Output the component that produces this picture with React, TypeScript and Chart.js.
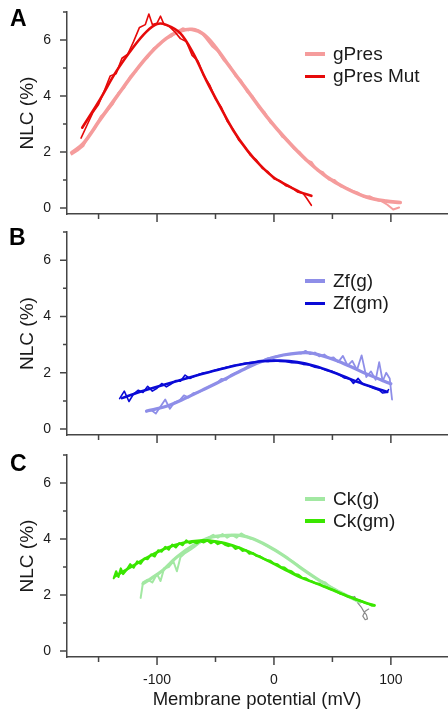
import React, { useEffect, useRef } from 'react';
import { Chart, registerables } from 'chart.js';

Chart.register(...registerables);

// ---------- axes ----------
const X_MIN = -177;
const X_MAX = 148;
const Y_MIN = -0.21;
const Y_MAX = 7;
const xTickValues = [-150, -100, -50, 0, 50, 100];
const xLabeledTicks = [-100, 0, 100];
const yTickValues = [0, 1, 2, 3, 4, 5, 6, 7];
const yLabeledTicks = [0, 2, 4, 6];
const xTitle = 'Membrane potential (mV)';
const yTitle = 'NLC (%)';
const panelLetters = ['A', 'B', 'C'];

// ---------- Panel A ----------
const presLabel = 'gPres';
const presFitX = [-173, -163, -149, -134.5, -120, -106, -92, -80, -70, -60, -50, -40, -23, -6, 11, 28, 45, 62, 79, 96, 108];
const presFitY = [1.98, 2.31, 3.14, 3.98, 4.81, 5.52, 6.06, 6.32, 6.38, 6.2, 5.75, 5.17, 4.21, 3.26, 2.43, 1.71, 1.12, 0.7, 0.4, 0.25, 0.2];
const presDataX = [-173, -168, -163, -158, -153, -148, -143, -138, -133, -128, -123, -118, -113, -108, -103, -98, -93, -88, -83, -78, -73, -68, -63, -58, -53, -48, -43, -38, -33, -28, -23, -18, -13, -8, -3, 2, 7, 12, 17, 22, 27, 32, 37, 42, 47, 52, 57, 62, 67, 72, 77, 82, 87, 92, 97, 102, 107];
const presDataY = [1.92, 2.05, 2.22, 2.62, 2.85, 3.28, 3.45, 3.7, 4.12, 4.3, 4.7, 4.88, 5.2, 5.38, 5.7, 5.82, 6.05, 6.12, 6.3, 6.42, 6.35, 6.4, 6.3, 6.05, 5.78, 5.6, 5.28, 5.1, 4.72, 4.55, 4.15, 3.98, 3.6, 3.42, 3.05, 2.88, 2.55, 2.42, 2.12, 2.0, 1.72, 1.65, 1.35, 1.28, 1.02, 1.0, 0.78, 0.72, 0.62, 0.55, 0.4, 0.42, 0.3, 0.25, 0.12, -0.05, 0.02];

const mutLabel = 'gPres Mut';
const mutFitX = [-164, -149, -135, -120, -109, -100, -92, -80, -69, -58, -46, -35, -23, -12, -1, 11, 22, 32];
const mutFitY = [2.87, 3.86, 4.87, 5.76, 6.3, 6.57, 6.54, 6.24, 5.52, 4.57, 3.62, 2.79, 2.07, 1.54, 1.12, 0.82, 0.58, 0.44];
const mutDataX = [-165, -160, -155, -150, -145, -140, -135, -130, -125, -120, -115, -110, -107, -104, -100, -97, -94, -90, -85, -80, -75, -70, -65, -60, -55, -50, -45, -40, -35, -30, -25, -20, -15, -10, -5, 0, 5, 10, 15, 20, 25, 28, 32];
const mutDataY = [2.5, 2.95, 3.4, 3.7, 4.2, 4.72, 4.8, 5.35, 5.5, 5.95, 6.45, 6.55, 6.93, 6.55, 6.6, 6.85, 6.55, 6.5, 6.3, 6.05, 5.95, 5.45, 5.25, 4.72, 4.4, 3.9, 3.6, 3.1, 2.82, 2.42, 2.2, 1.88, 1.72, 1.42, 1.3, 1.05, 0.98, 0.8, 0.74, 0.58, 0.52, 0.35, 0.1];

// ---------- Panel B ----------
const zfgLabel = 'Zf(g)';
const zfgFitX = [-109, -92, -75, -57.5, -40, -23, -6, 8, 22, 31, 39, 51, 65, 79, 100];
const zfgFitY = [0.64, 0.81, 1.11, 1.46, 1.82, 2.18, 2.47, 2.63, 2.71, 2.71, 2.63, 2.47, 2.23, 1.96, 1.61];
const zfgDataX = [-109, -105, -101, -97, -93, -89, -85, -81, -77, -73, -69, -65, -61, -57, -53, -49, -45, -41, -37, -33, -29, -25, -21, -17, -13, -9, -5, -1, 3, 7, 11, 15, 19, 23, 27, 31, 35, 39, 43, 47, 51, 55, 59, 63, 67, 71, 75, 79, 83, 87, 90, 93, 96, 99, 101];
const zfgDataY = [0.62, 0.68, 0.55, 0.8, 1.05, 0.72, 0.95, 1.0, 1.2, 1.12, 1.28, 1.3, 1.38, 1.48, 1.55, 1.62, 1.78, 1.75, 1.92, 2.0, 2.05, 2.15, 2.28, 2.35, 2.42, 2.45, 2.52, 2.55, 2.6, 2.62, 2.65, 2.66, 2.7, 2.68, 2.78, 2.66, 2.72, 2.58, 2.65, 2.52, 2.55, 2.38, 2.6, 2.25, 2.42, 2.1, 2.62, 1.85, 2.05, 1.75, 2.38, 1.7, 2.0, 1.8, 1.05];

const zfgmLabel = 'Zf(gm)';
const zfgmFitX = [-130, -115, -100, -85, -70, -55, -40, -25, -10, 5, 20, 35, 50, 65, 80, 97];
const zfgmFitY = [1.1, 1.32, 1.5, 1.68, 1.86, 2.03, 2.19, 2.32, 2.41, 2.43, 2.38, 2.24, 2.03, 1.78, 1.55, 1.32];
const zfgmDataX = [-132, -128, -124, -120, -116, -112, -108, -104, -100, -96, -92, -88, -84, -80, -76, -72, -68, -64, -60, -55, -50, -45, -40, -35, -30, -25, -20, -15, -10, -5, 0, 5, 10, 15, 20, 25, 30, 35, 40, 45, 50, 55, 60, 65, 68, 72, 76, 80, 85, 90, 93, 96, 98];
const zfgmDataY = [1.08, 1.35, 0.98, 1.25, 1.38, 1.3, 1.52, 1.35, 1.45, 1.62, 1.5, 1.6, 1.72, 1.7, 1.92, 1.8, 1.88, 1.95, 2.0, 2.02, 2.1, 2.15, 2.2, 2.26, 2.28, 2.34, 2.36, 2.38, 2.42, 2.4, 2.44, 2.4, 2.4, 2.36, 2.35, 2.3, 2.28, 2.2, 2.16, 2.08, 2.05, 1.95, 1.82, 1.78, 1.62, 1.8, 1.6, 1.55, 1.45, 1.38, 1.28, 1.3, 1.4];

// ---------- Panel C ----------
const ckgLabel = 'Ck(g)';
const ckgFitX = [-112, -97, -83, -69, -55, -40, -29, -18, -6, 8, 22, 36.5, 50.7, 65, 73.5];
const ckgFitY = [2.41, 2.82, 3.36, 3.77, 4.05, 4.13, 4.13, 4.01, 3.77, 3.42, 3.0, 2.59, 2.23, 1.93, 1.75];
const ckgDataX = [-114, -112, -108, -104, -100, -97, -94, -90, -86, -83, -80, -76, -72, -68, -64, -60, -56, -52, -48, -44, -40, -36, -32, -28, -24, -20, -16, -12, -8, -4, 0, 4, 8, 12, 16, 20, 24, 28, 32, 36, 40, 44, 48, 52, 56, 60, 64, 68, 72, 75];
const ckgDataY = [1.9, 2.45, 2.55, 2.45, 2.75, 2.5, 2.95, 3.0, 3.2, 2.85, 3.35, 3.5, 3.6, 3.72, 3.85, 3.95, 4.05, 4.15, 4.05, 4.18, 4.05, 4.15, 4.05, 4.2, 4.1, 4.02, 3.98, 3.9, 3.8, 3.72, 3.62, 3.52, 3.42, 3.3, 3.2, 3.08, 2.95, 2.82, 2.7, 2.6, 2.5, 2.45, 2.3, 2.2, 2.1, 2.02, 1.92, 1.85, 1.78, 1.75];

const ckgmLabel = 'Ck(gm)';
const ckgmFitX = [-136, -120, -106, -92, -77.5, -63, -49, -35, -20.5, -6, 8, 22, 36.5, 50.7, 65, 79, 86];
const ckgmFitY = [2.67, 3.06, 3.4, 3.68, 3.87, 3.95, 3.91, 3.77, 3.53, 3.24, 2.94, 2.64, 2.41, 2.17, 1.93, 1.72, 1.64];
const ckgmDataX = [-137, -135, -133, -131, -129, -126, -123, -120, -117, -114, -111, -108, -105, -102, -99, -96, -93, -90, -87, -84, -81, -78, -75, -72, -69, -66, -63, -60, -57, -54, -51, -48, -45, -42, -39, -36, -33, -30, -27, -24, -21, -18, -15, -12, -9, -6, -3, 0, 3, 6, 9, 12, 15, 18, 21, 24, 27, 30, 33, 36, 39, 42, 45, 48, 51, 54, 57, 60, 63, 66, 69, 72, 75, 78, 81, 84, 86];
const ckgmDataY = [2.6, 2.85, 2.65, 2.95, 2.75, 2.9, 3.1, 2.98, 3.2, 3.12, 3.3, 3.28, 3.45, 3.38, 3.6, 3.55, 3.72, 3.62, 3.8, 3.7, 3.85, 3.78, 3.95, 3.85, 3.9, 3.85, 3.92, 3.88, 3.95, 3.85, 3.92, 3.82, 3.88, 3.8, 3.75, 3.78, 3.65, 3.7, 3.58, 3.6, 3.48, 3.5, 3.4, 3.38, 3.3, 3.25, 3.22, 3.12, 3.1, 3.0, 2.98, 2.88, 2.85, 2.75, 2.72, 2.62, 2.6, 2.52, 2.48, 2.42, 2.4, 2.32, 2.28, 2.22, 2.18, 2.12, 2.05, 2.02, 1.95, 1.92, 1.85, 1.82, 1.78, 1.72, 1.68, 1.62, 1.62];

const ckRawX = [55, 60, 65, 69, 72, 75, 77, 79, 80, 78, 76, 78, 81];
const ckRawY = [2.12, 2.0, 1.9, 1.95, 1.7, 1.55, 1.4, 1.3, 1.15, 1.12, 1.25, 1.42, 1.5];

// ---------- styles ----------
const FONT = '"Liberation Sans", Arial, Helvetica, sans-serif';
const AXIS_COLOR = '#454545';
const TEXT_COLOR = '#1a1a1a';
const C_PRES = '#f59c9c';
const C_MUT = '#e60a0a';
const C_ZFG = '#8e8ee8';
const C_ZFGM = '#0a0ad6';
const C_CKG = '#a2e8a2';
const C_CKGM = '#3ae600';
const C_RAW = '#8a8a8a';

type Series = { xs: number[]; ys: number[]; color: string; width: number; smooth: boolean; order: number };
type LegendItem = { label: string; color: string; width: number };

const tickMarks = {
  id: 'tickMarks',
  afterDraw(chart: any) {
    const { ctx, chartArea } = chart;
    const xs = chart.scales.x;
    const ys = chart.scales.y;
    ctx.save();
    ctx.strokeStyle = AXIS_COLOR;
    ctx.lineWidth = 1.5;
    ctx.beginPath();
    ys.ticks.forEach((t: any) => {
      const y = ys.getPixelForValue(t.value);
      const len = t.value % 2 === 0 ? 7 : 4;
      ctx.moveTo(chartArea.left - len, y);
      ctx.lineTo(chartArea.left, y);
    });
    xs.ticks.forEach((t: any) => {
      const x = xs.getPixelForValue(t.value);
      const len = t.value % 100 === 0 ? 8 : 5;
      ctx.moveTo(x, chartArea.bottom);
      ctx.lineTo(x, chartArea.bottom + len);
    });
    ctx.stroke();
    ctx.restore();
  },
};

function makeDataset(s: Series) {
  return {
    data: s.xs.map((x, i) => ({ x, y: s.ys[i] })),
    borderColor: s.color,
    borderWidth: s.width,
    pointRadius: 0,
    fill: false,
    tension: s.smooth ? 0.35 : 0,
    order: s.order,
    borderJoinStyle: 'round',
    borderCapStyle: 'round',
  };
}

type PanelProps = {
  top: number;
  height: number;
  padTop: number;
  xAxisH: number;
  bottomAxis: boolean;
  series: Series[];
  legend: LegendItem[];
  legendBaseline: number;
  letter: string;
  letterTop: number;
  letterLeft: number;
};

function Panel(p: PanelProps) {
  const ref = useRef<HTMLCanvasElement>(null);
  useEffect(() => {
    const chart = new Chart(ref.current as HTMLCanvasElement, {
      type: 'line',
      data: { datasets: p.series.map(makeDataset) as any },
      options: {
        responsive: false,
        maintainAspectRatio: false,
        animation: false,
        layout: { padding: { top: p.padTop, bottom: 0, left: 0, right: 1 } },
        plugins: { legend: { display: false }, tooltip: { enabled: false } },
        scales: {
          x: {
            type: 'linear',
            min: X_MIN,
            max: X_MAX,
            grid: { display: false, drawTicks: false },
            border: { display: true, color: AXIS_COLOR, width: 1.5 },
            ticks: {
              display: p.bottomAxis,
              autoSkip: false,
              maxRotation: 0,
              padding: 15,
              color: TEXT_COLOR,
              font: { family: FONT, size: 14 },
              callback: (v: any) => (xLabeledTicks.includes(Number(v)) ? String(v) : ''),
            },
            title: {
              display: p.bottomAxis,
              text: xTitle,
              color: TEXT_COLOR,
              font: { family: FONT, size: 18.5 },
              padding: { top: 0, bottom: 2 },
            },
            afterBuildTicks: (s: any) => {
              s.ticks = xTickValues.map((v) => ({ value: v }));
            },
            afterFit: (s: any) => {
              s.height = p.xAxisH;
              s.paddingLeft = 0;
              s.paddingRight = 0;
              s.paddingTop = 0;
              s.paddingBottom = 0;
            },
          },
          y: {
            type: 'linear',
            min: Y_MIN,
            max: Y_MAX,
            grid: { display: false, drawTicks: false },
            border: { display: true, color: AXIS_COLOR, width: 1.5 },
            ticks: {
              autoSkip: false,
              padding: 16,
              color: TEXT_COLOR,
              font: { family: FONT, size: 14 },
              callback: (v: any) => (yLabeledTicks.includes(Number(v)) ? String(v) : ''),
            },
            title: {
              display: true,
              text: yTitle,
              color: TEXT_COLOR,
              font: { family: FONT, size: 19 },
              padding: { top: 16, bottom: 0 },
            },
            afterBuildTicks: (s: any) => {
              s.ticks = yTickValues.map((v) => ({ value: v }));
            },
            afterFit: (s: any) => {
              s.width = 67;
              s.paddingLeft = 0;
              s.paddingRight = 0;
              s.paddingTop = 0;
              s.paddingBottom = 0;
            },
          },
        },
      } as any,
      plugins: [tickMarks],
    });
    return () => chart.destroy();
  }, []);

  const legendFont = 19;
  const rowGap = 22;
  return (
    <>
      <canvas
        ref={ref}
        width={448}
        height={p.height}
        style={{ position: 'absolute', left: 0, top: p.top, width: 448, height: p.height, display: 'block' }}
      />
      <div
        style={{
          position: 'absolute',
          left: p.letterLeft,
          top: p.letterTop,
          fontFamily: FONT,
          fontWeight: 'bold',
          fontSize: 23,
          lineHeight: 1,
          color: '#000',
        }}
      >
        {p.letter}
      </div>
      {p.legend.map((item, i) => {
        const baseline = p.legendBaseline + i * rowGap;
        return (
          <React.Fragment key={item.label}>
            <div
              style={{
                position: 'absolute',
                left: 305,
                width: 20,
                top: baseline - 6 - item.width / 2,
                height: item.width,
                background: item.color,
              }}
            />
            <div
              style={{
                position: 'absolute',
                left: 333,
                top: baseline - 0.8465 * legendFont,
                fontFamily: FONT,
                fontSize: legendFont,
                lineHeight: 1,
                color: TEXT_COLOR,
                whiteSpace: 'nowrap',
              }}
            >
              {item.label}
            </div>
          </React.Fragment>
        );
      })}
    </>
  );
}

export default function App() {
  const panelA: Series[] = [
    { xs: mutFitX, ys: mutFitY, color: C_MUT, width: 2.6, smooth: true, order: 0 },
    { xs: mutDataX, ys: mutDataY, color: C_MUT, width: 1.6, smooth: false, order: 1 },
    { xs: presFitX, ys: presFitY, color: C_PRES, width: 3.6, smooth: true, order: 2 },
    { xs: presDataX, ys: presDataY, color: C_PRES, width: 2, smooth: false, order: 3 },
  ];
  const panelB: Series[] = [
    { xs: zfgmFitX, ys: zfgmFitY, color: C_ZFGM, width: 2.6, smooth: true, order: 0 },
    { xs: zfgmDataX, ys: zfgmDataY, color: C_ZFGM, width: 1.6, smooth: false, order: 1 },
    { xs: zfgFitX, ys: zfgFitY, color: C_ZFG, width: 3.2, smooth: true, order: 2 },
    { xs: zfgDataX, ys: zfgDataY, color: C_ZFG, width: 1.8, smooth: false, order: 3 },
  ];
  const panelC: Series[] = [
    { xs: ckgmFitX, ys: ckgmFitY, color: C_CKGM, width: 2.6, smooth: true, order: 0 },
    { xs: ckgmDataX, ys: ckgmDataY, color: C_CKGM, width: 2.2, smooth: false, order: 1 },
    { xs: ckgFitX, ys: ckgFitY, color: C_CKG, width: 3.2, smooth: true, order: 2 },
    { xs: ckgDataX, ys: ckgDataY, color: C_CKG, width: 2, smooth: false, order: 3 },
    { xs: ckRawX, ys: ckRawY, color: C_RAW, width: 1.2, smooth: false, order: 4 },
  ];
  return (
    <div style={{ position: 'fixed', left: 0, top: 0, width: 448, height: 713, background: '#fff', overflow: 'hidden' }}>
      <Panel
        top={0}
        height={225}
        padTop={12}
        xAxisH={11}
        bottomAxis={false}
        series={panelA}
        legend={[
          { label: presLabel, color: C_PRES, width: 3.5 },
          { label: mutLabel, color: C_MUT, width: 3 },
        ]}
        legendBaseline={60}
        letter={panelLetters[0]}
        letterTop={7}
        letterLeft={10}
      />
      <Panel
        top={225}
        height={225}
        padTop={7}
        xAxisH={15}
        bottomAxis={false}
        series={panelB}
        legend={[
          { label: zfgLabel, color: C_ZFG, width: 3.5 },
          { label: zfgmLabel, color: C_ZFGM, width: 3 },
        ]}
        legendBaseline={287}
        letter={panelLetters[1]}
        letterTop={226}
        letterLeft={9}
      />
      <Panel
        top={450}
        height={263}
        padTop={5}
        xAxisH={56}
        bottomAxis={true}
        series={panelC}
        legend={[
          { label: ckgLabel, color: C_CKG, width: 3.5 },
          { label: ckgmLabel, color: C_CKGM, width: 3.5 },
        ]}
        legendBaseline={505}
        letter={panelLetters[2]}
        letterTop={452}
        letterLeft={10}
      />
    </div>
  );
}
